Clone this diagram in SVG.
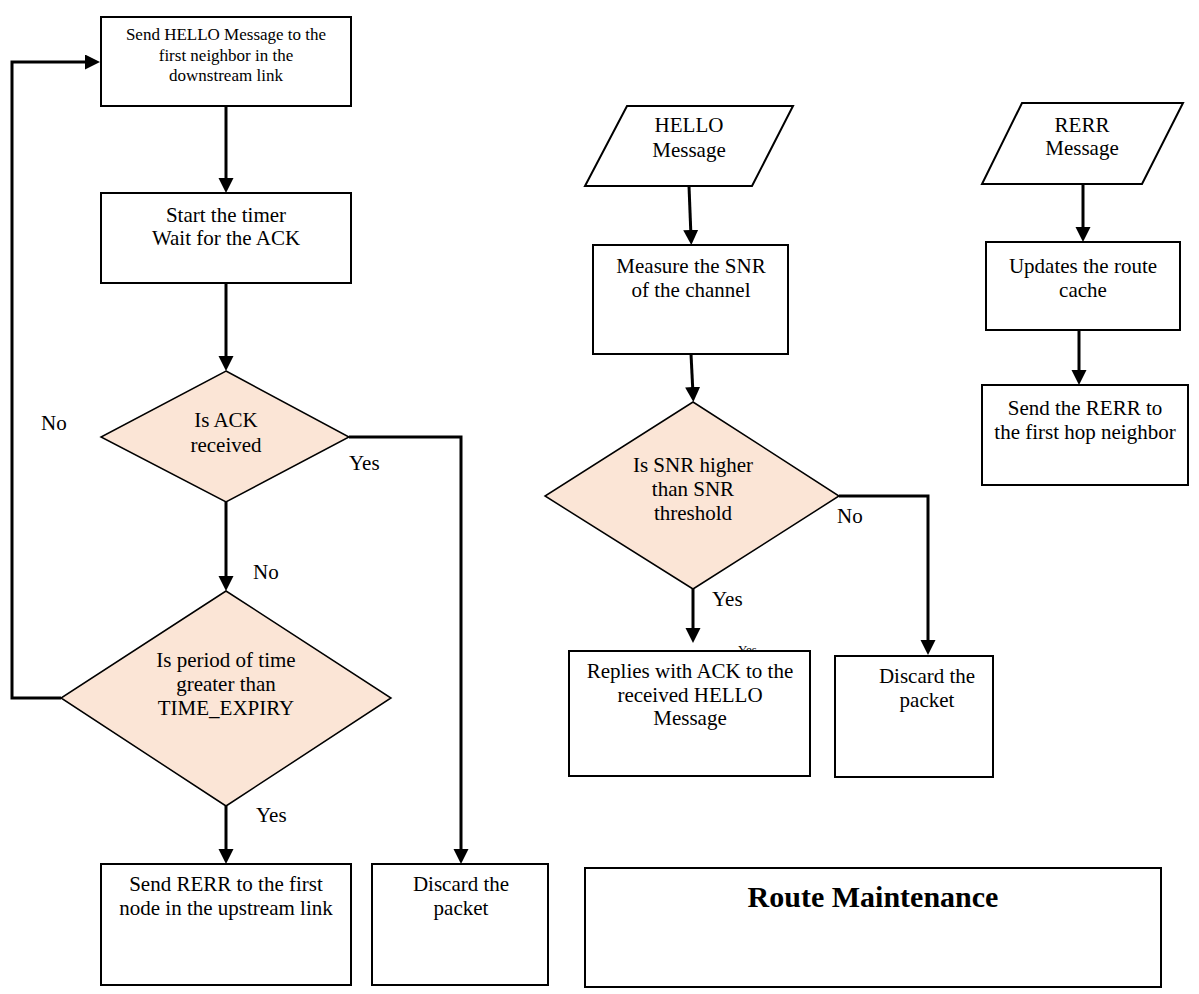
<svg xmlns="http://www.w3.org/2000/svg" width="1199" height="994" viewBox="0 0 1199 994">
<style>
.box{fill:#fff;stroke:#000;stroke-width:2}
.dia{fill:#FBE5D6;stroke:#000;stroke-width:1.5}
.t{font-family:"Liberation Serif","Times New Roman",serif;font-size:21px;fill:#000;text-anchor:middle}
.s{font-size:17px}
.lbl{font-family:"Liberation Serif","Times New Roman",serif;font-size:21px;fill:#000}
.con{fill:none;stroke:#000;stroke-width:3}
.arr{marker-end:url(#ah)}
</style>
<defs>
<marker id="ah" markerUnits="userSpaceOnUse" markerWidth="16" markerHeight="16" refX="7" refY="7.5" orient="auto">
<path d="M0,0 L15,7.5 L0,15 z" fill="#000"/>
</marker>
</defs>
<rect width="1199" height="994" fill="#fff"/>

<g id="connectors">
<line class="con arr" x1="226" y1="106" x2="226" y2="185"/>
<line class="con arr" x1="226" y1="283" x2="226" y2="363"/>
<line class="con arr" x1="226" y1="502" x2="226" y2="583"/>
<line class="con arr" x1="226" y1="806" x2="226" y2="856"/>
<polyline class="con arr" points="349,437 461,437 461,856"/>
<polyline class="con arr" points="61,698 12,698 12,62 92,62"/>
<line class="con arr" x1="689" y1="186" x2="691" y2="237"/>
<line class="con arr" x1="691" y1="354" x2="693" y2="394"/>
<line class="con arr" x1="693" y1="589" x2="693" y2="635"/>
<polyline class="con arr" points="839,496 928,496 928,647"/>
<line class="con arr" x1="1083" y1="184" x2="1083" y2="234"/>
<line class="con arr" x1="1079" y1="330" x2="1079" y2="377"/>
</g>

<g id="labels">
<text class="lbl" x="41" y="430">No</text>
<text class="lbl" x="349" y="470">Yes</text>
<text class="lbl" x="253" y="579">No</text>
<text class="lbl" x="256" y="822">Yes</text>
<text class="lbl" x="837" y="523">No</text>
<text class="lbl" x="712" y="606">Yes</text>
<text class="lbl" x="738" y="654" style="font-size:13px">Yes</text>
</g>

<g id="send-hello">
<rect class="box" x="101" y="17" width="250" height="89"/>
<text class="t s" x="226" y="40">Send HELLO Message to the</text>
<text class="t s" x="226" y="61">first neighbor in the</text>
<text class="t s" x="226" y="81">downstream link</text>
</g>

<g id="start-timer">
<rect class="box" x="101" y="193" width="250" height="90"/>
<text class="t" x="226" y="222">Start the timer</text>
<text class="t" x="226" y="245">Wait for the ACK</text>
</g>

<g id="ack-received">
<polygon class="dia" points="226,371 349,437 226,502 101,437"/>
<text class="t" x="226" y="427">Is ACK</text>
<text class="t" x="226" y="452">received</text>
</g>

<g id="time-expiry">
<polygon class="dia" points="226,591 391,698 226,806 61,698"/>
<text class="t" x="226" y="667">Is period of time</text>
<text class="t" x="226" y="691">greater than</text>
<text class="t" x="226" y="715">TIME_EXPIRY</text>
</g>

<g id="send-rerr-upstream">
<rect class="box" x="101" y="864" width="250" height="121"/>
<text class="t" x="226" y="891">Send RERR to the first</text>
<text class="t" x="226" y="915">node in the upstream link</text>
</g>

<g id="discard-1">
<rect class="box" x="372" y="864" width="176" height="121"/>
<text class="t" x="461" y="891">Discard the</text>
<text class="t" x="461" y="915">packet</text>
</g>

<g id="hello-message">
<polygon class="box" points="627,106 793,106 752,186 585,186"/>
<text class="t" x="689" y="132">HELLO</text>
<text class="t" x="689" y="157">Message</text>
</g>

<g id="measure-snr">
<rect class="box" x="593" y="245" width="195" height="109"/>
<text class="t" x="691" y="273">Measure the SNR</text>
<text class="t" x="691" y="297">of the channel</text>
</g>

<g id="snr-threshold">
<polygon class="dia" points="693,402 839,496 693,589 545,496"/>
<text class="t" x="693" y="472">Is SNR higher</text>
<text class="t" x="693" y="496">than SNR</text>
<text class="t" x="693" y="520">threshold</text>
</g>

<g id="replies-ack">
<rect class="box" x="569" y="651" width="241" height="125"/>
<text class="t" x="690" y="678">Replies with ACK to the</text>
<text class="t" x="690" y="702">received HELLO</text>
<text class="t" x="690" y="725">Message</text>
</g>

<g id="discard-2">
<rect class="box" x="835" y="656" width="158" height="121"/>
<text class="t" x="927" y="683">Discard the</text>
<text class="t" x="927" y="707">packet</text>
</g>

<g id="rerr-message">
<polygon class="box" points="1022,103 1183,103 1142,184 982,184"/>
<text class="t" x="1082" y="132">RERR</text>
<text class="t" x="1082" y="155">Message</text>
</g>

<g id="update-cache">
<rect class="box" x="986" y="242" width="194" height="88"/>
<text class="t" x="1083" y="273">Updates the route</text>
<text class="t" x="1083" y="297">cache</text>
</g>

<g id="send-rerr-neighbor">
<rect class="box" x="982" y="385" width="206" height="100"/>
<text class="t" x="1085" y="415">Send the RERR to</text>
<text class="t" x="1085" y="439">the first hop neighbor</text>
</g>

<g id="route-maintenance">
<rect class="box" x="585" y="868" width="576" height="119"/>
<text class="t" x="873" y="907" style="font-size:30px;font-weight:bold">Route Maintenance</text>
</g>
</svg>
